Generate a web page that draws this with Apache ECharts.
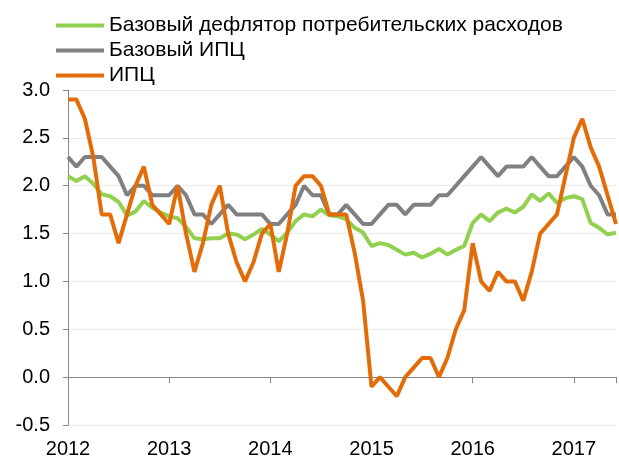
<!DOCTYPE html>
<html>
<head>
<meta charset="utf-8">
<script src="https://cdn.jsdelivr.net/npm/echarts@6/dist/echarts.min.js"></script>
<style>
html,body{margin:0;padding:0;background:#fff;}
#chart{width:619px;height:459px;}
</style>
</head>
<body>
<div id="chart"></div>
<script>
// Monthly, Jan 2012 – Jun 2017
const years = ['2012', '2013', '2014', '2015', '2016', '2017'];
const seriesNames = ['Базовый дефлятор потребительских расходов', 'Базовый ИПЦ', 'ИПЦ'];

const corePce = [
  2.10, 2.05, 2.10, 2.02, 1.91, 1.89, 1.83, 1.69, 1.73, 1.84, 1.77, 1.72,
  1.68, 1.66, 1.57, 1.45, 1.44, 1.45, 1.45, 1.50, 1.49, 1.44, 1.49, 1.55,
  1.49, 1.42, 1.51, 1.63, 1.70, 1.68, 1.75, 1.69, 1.68, 1.65, 1.56, 1.51,
  1.37, 1.40, 1.38, 1.33, 1.28, 1.30, 1.25, 1.29, 1.34, 1.28, 1.33, 1.37,
  1.61, 1.70, 1.63, 1.72, 1.76, 1.72, 1.78, 1.91, 1.84, 1.92, 1.82, 1.87,
  1.89, 1.86, 1.61, 1.56, 1.49, 1.51
];
const coreCpi = [
  2.3, 2.2, 2.3, 2.3, 2.3, 2.2, 2.1, 1.9, 2.0, 2.0, 1.9, 1.9,
  1.9, 2.0, 1.9, 1.7, 1.7, 1.6, 1.7, 1.8, 1.7, 1.7, 1.7, 1.7,
  1.6, 1.6, 1.7, 1.8, 2.0, 1.9, 1.9, 1.7, 1.7, 1.8, 1.7, 1.6,
  1.6, 1.7, 1.8, 1.8, 1.7, 1.8, 1.8, 1.8, 1.9, 1.9, 2.0, 2.1,
  2.2, 2.3, 2.2, 2.1, 2.2, 2.2, 2.2, 2.3, 2.2, 2.1, 2.1, 2.2,
  2.3, 2.2, 2.0, 1.9, 1.7, 1.7
];
const cpi = [
  2.9, 2.9, 2.7, 2.3, 1.7, 1.7, 1.4, 1.7, 2.0, 2.2, 1.8, 1.7,
  1.6, 2.0, 1.5, 1.1, 1.4, 1.8, 2.0, 1.5, 1.2, 1.0, 1.2, 1.5,
  1.6, 1.1, 1.5, 2.0, 2.1, 2.1, 2.0, 1.7, 1.7, 1.7, 1.3, 0.8,
  -0.1, 0.0, -0.1, -0.2, 0.0, 0.1, 0.2, 0.2, 0.0, 0.2, 0.5, 0.7,
  1.4, 1.0, 0.9, 1.1, 1.0, 1.0, 0.8, 1.1, 1.5, 1.6, 1.7, 2.1,
  2.5, 2.7, 2.4, 2.2, 1.9, 1.6
];

const toPairs = arr => arr.map((v, i) => [i, v]);
const FONT = '"Liberation Sans", Arial, sans-serif';
const lastIdx = cpi.length - 1;

const chart = echarts.init(document.getElementById('chart'), null, {renderer: 'canvas'});
chart.setOption({
  animation: false,
  backgroundColor: '#ffffff',
  textStyle: {fontFamily: FONT},
  grid: {left: 68, right: 3, top: 90, bottom: 33, containLabel: false},
  legend: {
    orient: 'vertical',
    left: 56,
    top: 15,
    padding: 0,
    icon: 'rect',
    itemWidth: 48,
    itemHeight: 4,
    itemGap: 4,
    textStyle: {fontFamily: FONT, fontSize: 21, color: '#000', lineHeight: 21},
    data: seriesNames
  },
  xAxis: [
    {
      type: 'value', min: 0, max: lastIdx, interval: 12,
      position: 'bottom',
      axisLine: {show: false, onZero: false},
      axisTick: {show: false},
      splitLine: {show: false},
      axisLabel: {
        fontFamily: FONT, fontSize: 20, color: '#000', margin: 14,
        showMaxLabel: false,
        formatter: v => years[Math.round(v / 12)] || ''
      }
    },
    {
      type: 'value', min: 0, max: lastIdx, interval: 12,
      position: 'top',
      axisLine: {show: true, onZero: true, lineStyle: {color: '#868686', width: 1}},
      axisTick: {show: true, inside: true, length: 6, lineStyle: {color: '#868686'}},
      splitLine: {show: false},
      axisLabel: {show: false}
    }
  ],
  yAxis: {
    type: 'value', min: -0.5, max: 3, interval: 0.5,
    axisLine: {show: true, lineStyle: {color: '#868686', width: 1}},
    axisTick: {show: true, length: 5, lineStyle: {color: '#868686'}},
    splitLine: {show: true, lineStyle: {color: '#ececec', width: 1}},
    axisLabel: {
      fontFamily: FONT, fontSize: 20, color: '#000', margin: 18,
      formatter: v => v.toFixed(1)
    }
  },
  series: [
    {name: seriesNames[0], type: 'line', data: toPairs(corePce), symbol: 'none',
     color: '#92d050', lineStyle: {color: '#92d050', width: 4}},
    {name: seriesNames[1], type: 'line', data: toPairs(coreCpi), symbol: 'none',
     color: '#808080', lineStyle: {color: '#808080', width: 4}},
    {name: seriesNames[2], type: 'line', data: toPairs(cpi), symbol: 'none',
     color: '#e36c09', lineStyle: {color: '#e36c09', width: 4}}
  ]
});
</script>
</body>
</html>
